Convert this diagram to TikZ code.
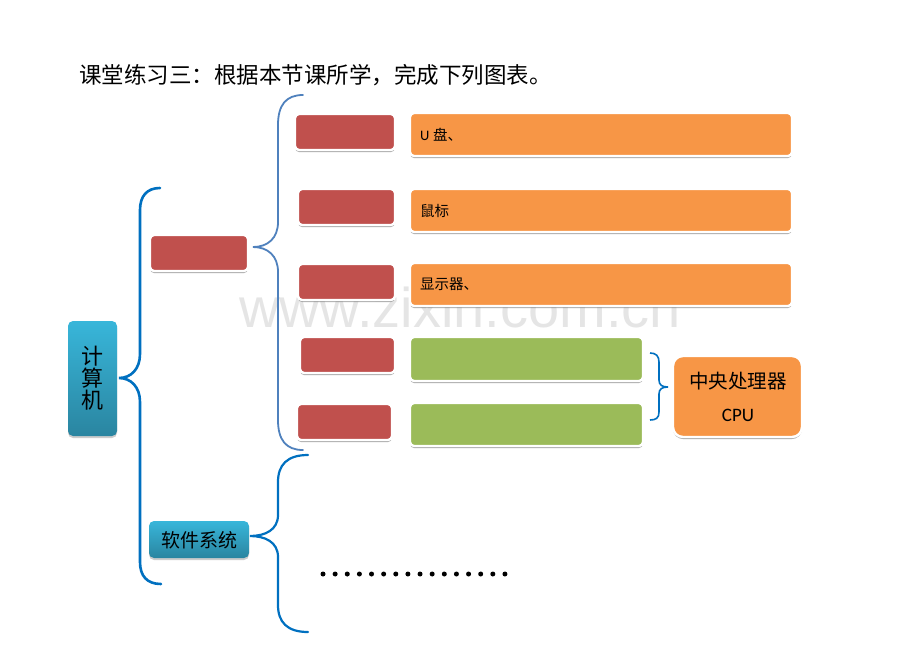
\documentclass[tikz,border=0pt]{standalone}
\usepackage{fontspec}
\setmainfont{Liberation Serif}
\newfontfamily\cjk{Noto Sans CJK SC}
\newfontfamily\calfont{Carlito}
\newfontfamily\wmfont{Liberation Sans}
\usetikzlibrary{shadows}
\definecolor{boxred}{HTML}{C0504D}
\definecolor{boxorange}{HTML}{F79646}
\definecolor{boxgreen}{HTML}{9BBB59}
\definecolor{bracedark}{HTML}{0070C0}
\definecolor{bracelight}{HTML}{4F81BD}
\definecolor{cyantop}{HTML}{38B6DA}
\definecolor{cyanbot}{HTML}{2A85A0}
\begin{document}
\begin{tikzpicture}[x=1pt,y=-1pt,
  box/.style={draw=white, line width=2.4pt, rounded corners=4pt, inner sep=0pt, outer sep=0pt, anchor=north west,
    drop shadow={shadow xshift=0pt, shadow yshift=-2pt, fill=black!55, opacity=0.6}},
  redbox/.style={box, fill=boxred},
  orangebox/.style={box, fill=boxorange},
  greenbox/.style={box, fill=boxgreen},
  bluebox/.style={top color=cyantop, bottom color=cyanbot, draw=none, rounded corners=5pt, inner sep=0pt, outer sep=0pt, anchor=north west,
    drop shadow={shadow xshift=0pt, shadow yshift=-2pt, fill=black!50, opacity=0.4}},
  bigbrace/.style={draw=bracedark, line width=2.6pt, line cap=round},
  hwbrace/.style={draw=bracelight, line width=1.8pt, line cap=round},
  swbrace/.style={draw=bracedark, line width=2.2pt, line cap=round},
  boxtext/.style={font=\fontsize{14.5}{16}\selectfont, anchor=west, inner sep=0pt},
]
\useasboundingbox (0,0) rectangle (920,651);
\fill[white] (0,0) rectangle (920,651);

% watermark
\node[font=\wmfont\fontsize{56}{56}\selectfont, text=black, opacity=0.1, inner sep=0pt] (wm) at (460,307) {www.zixin.com.cn};

% title
\node[anchor=west, inner sep=0pt, font=\cjk\fontsize{22.5}{27}\selectfont] (title) at (79,75) {课堂练习三：根据本节课所学，完成下列图表。};

% left root
\node[bluebox, minimum width=49pt, minimum height=115pt] (comp) at (68,321) {};
\node[font=\cjk\fontsize{22}{22}\selectfont, align=center, inner sep=0pt, text=black] (comptext) at (comp.center) {计\\[0pt]算\\[0pt]机};

% hardware
\node[redbox, minimum width=98pt, minimum height=36pt] (hw) at (150,235) {};
% software
\node[bluebox, minimum width=100pt, minimum height=37pt] (sw) at (149,521) {};
\node[font=\cjk\fontsize{19}{19}\selectfont, inner sep=0pt] (swtext) at ([yshift=-1pt]sw.center) {软件系统};

% red boxes
\node[redbox, minimum width=100pt, minimum height=36pt] (ra) at (295,114) {};
\node[redbox, minimum width=97pt, minimum height=36pt] (rb) at (298,189) {};
\node[redbox, minimum width=97pt, minimum height=36pt] (rc) at (298,264) {};
\node[redbox, minimum width=95pt, minimum height=36pt] (rd) at (300,337) {};
\node[redbox, minimum width=95pt, minimum height=36pt] (re) at (297,404) {};

% orange boxes
\node[orangebox, minimum width=382pt, minimum height=43pt] (oa) at (410,113) {};
\node[orangebox, minimum width=382pt, minimum height=43pt] (ob) at (410,189) {};
\node[orangebox, minimum width=382pt, minimum height=43pt] (oc) at (410,263) {};
\node[boxtext] (oat) at (420,135) {{\calfont U} {\cjk 盘、}};
\node[boxtext] (obt) at (420,211) {\cjk 鼠标};
\node[boxtext] (oct) at (420,284) {\cjk 显示器、};

% green boxes
\node[greenbox, minimum width=233pt, minimum height=44pt] (ga) at (410,337) {};
\node[greenbox, minimum width=233pt, minimum height=43pt] (gb) at (410,403) {};

% CPU
\node[orangebox, rounded corners=10pt, minimum width=129pt, minimum height=81pt] (cpu) at (673,356) {};
\node[font=\cjk\fontsize{19.5}{20}\selectfont, inner sep=0pt] (cputext1) at (738,381) {中央处理器};
\node[font=\calfont\fontsize{19}{20}\selectfont, inner sep=0pt] (cputext2) at (738,415) {CPU};

% braces
\draw[bigbrace] (160,188) .. controls (147,188) and (140,196) .. (140,210) -- (140,354)
  .. controls (140,369) and (131,378) .. (119,378) .. controls (131,378) and (140,387) .. (140,402)
  -- (140,562) .. controls (140,576) and (147,584) .. (161,584);
\draw[hwbrace] (303,95) .. controls (286,95) and (278,105) .. (278,125) -- (278,222)
  .. controls (278,238) and (268,247) .. (253,247) .. controls (268,247) and (278,256) .. (278,272)
  -- (278,420) .. controls (278,440) and (286,450) .. (303,450);
\draw[swbrace] (308,455) .. controls (287,455) and (278,465) .. (278,482) -- (278,515)
  .. controls (278,530) and (265,536) .. (250,536) .. controls (265,536) and (278,542) .. (278,557)
  -- (278,605) .. controls (278,622) and (287,632) .. (308,632);
\draw[draw=bracedark, line width=1.6pt] (650,353) .. controls (656,353) and (659,356) .. (659,362) -- (659,380)
  .. controls (659,385) and (662,387) .. (668,387) .. controls (662,387) and (659,389) .. (659,394)
  -- (659,412) .. controls (659,418) and (656,420) .. (650,420);

% dots
\foreach \i in {0,...,15} \fill (323+\i*12.13,574) circle (2.5);
\end{tikzpicture}
\end{document}
